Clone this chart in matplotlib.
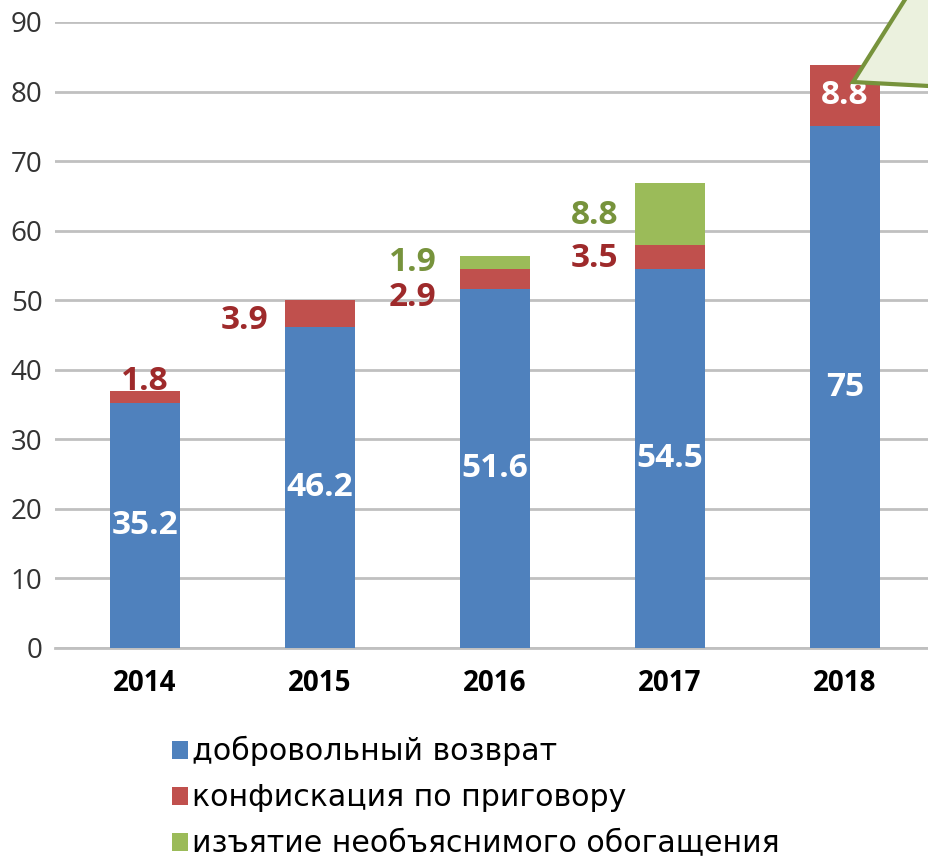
import matplotlib
matplotlib.use("Agg")
import matplotlib.pyplot as plt
import numpy as np
from matplotlib.patches import Patch, Polygon

years = ["2014", "2015", "2016", "2017", "2018"]
voluntary = [35.2, 46.2, 51.6, 54.5, 75]
confiscation = [1.8, 3.9, 2.9, 3.5, 8.8]
seizure = [0, 0, 1.9, 8.8, 0]
labels = ["добровольный возврат", "конфискация по приговору",
          "изъятие необъяснимого обогащения"]

BLUE, RED, GREEN = "#4f81bd", "#c0504d", "#9bbb59"
RED_TXT, GREEN_TXT = "#9e2a2b", "#77933c"

W, H = 929, 857
fig = plt.figure(figsize=(W / 100, H / 100), dpi=100)
ax = fig.add_axes([55 / W, 1 - 648 / H, (W - 55) / W, (648 - 22) / H])

x = np.arange(len(years))
v = np.array(voluntary)
c = np.array(confiscation)
s = np.array(seizure)
ax.bar(x, v, 0.4, color=BLUE, zorder=3)
ax.bar(x, c, 0.4, bottom=v, color=RED, zorder=3)
ax.bar(x, s, 0.4, bottom=v + c, color=GREEN, zorder=3)

ax.set_xlim(-0.514, 4.48)
ax.set_ylim(0, 90)
ax.set_yticks(range(0, 91, 10))
ax.grid(axis="y", color="#c0c0c0", lw=2, zorder=0)
for sp in ["top", "right", "left"]:
    ax.spines[sp].set_visible(False)
ax.spines["bottom"].set_color("#c0c0c0")
ax.spines["bottom"].set_linewidth(2)
ax.tick_params(axis="y", length=0, pad=9, labelsize=20, labelcolor="#333333")
ax.tick_params(axis="x", length=0, pad=15, labelsize=20)
ax.set_xticks(x)
ax.set_xticklabels(years, fontweight="bold")
for t in ax.get_yticklabels() + ax.get_xticklabels():
    t.set_family("Open Sans")

lab_kw = dict(fontsize=24, fontweight="bold", family="Open Sans",
              ha="center", va="center", zorder=5)

# blue values inside the bars
for i in range(len(years)):
    ax.text(x[i], v[i] / 2, f"{v[i]:g}", color="white", **lab_kw)

# red values (offsets: dx in category units, dy in data units)
red_off = [(0.0, 2.2), (-0.43, -1.0), (-0.47, -2.7), (-0.43, -0.2), (0.0, 0.0)]
for i in range(len(years)):
    dx, dy = red_off[i]
    col = "white" if i == 4 else RED_TXT
    ax.text(x[i] + dx, v[i] + c[i] / 2 + dy, f"{c[i]:g}", color=col, **lab_kw)

# green values
green_off = {2: (-0.47, 0.0), 3: (-0.43, -0.2)}
for i, (dx, dy) in green_off.items():
    ax.text(x[i] + dx, v[i] + c[i] + s[i] / 2 + dy, f"{s[i]:g}",
            color=GREEN_TXT, **lab_kw)

# callout bubble cut off at the top right
pts = [(853, 82), (911, -10), (950, -10), (950, 87), (929, 86)]
poly = Polygon([(px / W, 1 - py / H) for px, py in pts], closed=True,
               transform=fig.transFigure, facecolor="#ebf1de",
               edgecolor="#77933c", lw=3, zorder=10)
fig.patches.append(poly)

handles = [Patch(facecolor=col) for col in (BLUE, RED, GREEN)]
fig.legend(handles, labels, loc="upper left", bbox_to_anchor=(157 / W, 1 - 721 / H),
           frameon=False, prop={"family": "DejaVu Sans", "size": 21.6},
           handlelength=0.55, handleheight=0.55, handletextpad=0.12,
           labelspacing=0.57, borderpad=0)

fig.savefig("out.png", dpi=100)
